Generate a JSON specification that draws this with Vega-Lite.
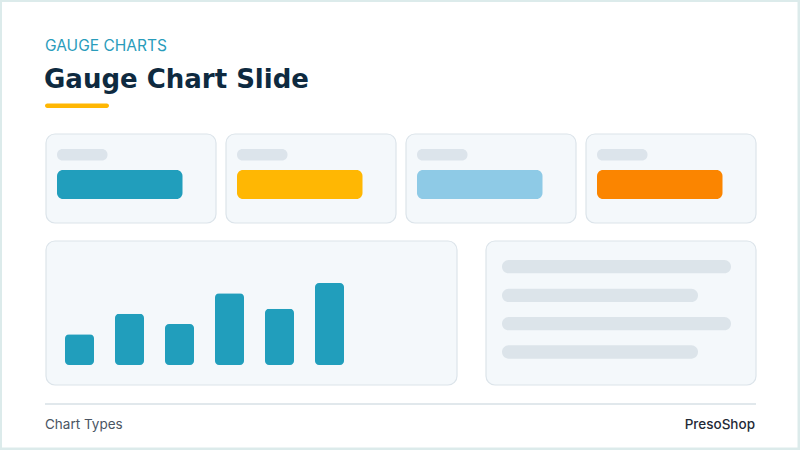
{
  "$schema": "https://vega.github.io/schema/vega-lite/v6.json",
  "width": 800,
  "height": 450,
  "autosize": {"type": "fit", "contains": "padding"},
  "padding": 0,
  "background": "#dcebeb",
  "config": {"view": {"stroke": null}, "font": "Inter"},
  "resolve": {"scale": {"x": "independent", "y": "independent", "color": "independent"}},
  "layer": [
    {
      "data": {"values": [{"part": "slide", "x0": 2, "x1": 797.5, "y0": 2, "y1": 447.5}]},
      "mark": {"type": "rect", "fill": "#ffffff"},
      "encoding": {
        "x": {"field": "x0", "type": "quantitative", "scale": {"domain": [0, 800], "range": [0, 800], "nice": false, "zero": false}, "axis": null},
        "x2": {"field": "x1"},
        "y": {"field": "y0", "type": "quantitative", "scale": {"domain": [0, 450], "range": [0, 450], "nice": false, "zero": false}, "axis": null},
        "y2": {"field": "y1"}
      }
    },
    {
      "data": {"values": [
        {"panel": "KPI 1", "x0": 46, "x1": 216, "y0": 134, "y1": 223},
        {"panel": "KPI 2", "x0": 226, "x1": 396, "y0": 134, "y1": 223},
        {"panel": "KPI 3", "x0": 406, "x1": 576, "y0": 134, "y1": 223},
        {"panel": "KPI 4", "x0": 586, "x1": 756, "y0": 134, "y1": 223},
        {"panel": "Chart", "x0": 46, "x1": 457, "y0": 241, "y1": 385},
        {"panel": "Notes", "x0": 486, "x1": 756, "y0": 241, "y1": 385}
      ]},
      "mark": {"type": "rect", "fill": "#f4f8fb", "stroke": "#dce4ea", "strokeWidth": 1.2, "cornerRadius": 9},
      "encoding": {
        "x": {"field": "x0", "type": "quantitative", "scale": {"domain": [0, 800], "range": [0, 800], "nice": false, "zero": false}, "axis": null},
        "x2": {"field": "x1"},
        "y": {"field": "y0", "type": "quantitative", "scale": {"domain": [0, 450], "range": [0, 450], "nice": false, "zero": false}, "axis": null},
        "y2": {"field": "y1"}
      }
    },
    {
      "data": {"values": [
        {"kpi": "KPI 1", "x0": 57, "x1": 107.5, "y0": 149, "y1": 160.5},
        {"kpi": "KPI 2", "x0": 237, "x1": 287.5, "y0": 149, "y1": 160.5},
        {"kpi": "KPI 3", "x0": 417, "x1": 467.5, "y0": 149, "y1": 160.5},
        {"kpi": "KPI 4", "x0": 597, "x1": 647.5, "y0": 149, "y1": 160.5}
      ]},
      "mark": {"type": "rect", "fill": "#dce4eb", "cornerRadius": 5.5},
      "encoding": {
        "x": {"field": "x0", "type": "quantitative", "scale": {"domain": [0, 800], "range": [0, 800], "nice": false, "zero": false}, "axis": null},
        "x2": {"field": "x1"},
        "y": {"field": "y0", "type": "quantitative", "scale": {"domain": [0, 450], "range": [0, 450], "nice": false, "zero": false}, "axis": null},
        "y2": {"field": "y1"}
      }
    },
    {
      "data": {"values": [
        {"kpi": "KPI 1", "x0": 57, "x1": 182.5, "y0": 170, "y1": 199},
        {"kpi": "KPI 2", "x0": 237, "x1": 362.5, "y0": 170, "y1": 199},
        {"kpi": "KPI 3", "x0": 417, "x1": 542.5, "y0": 170, "y1": 199},
        {"kpi": "KPI 4", "x0": 597, "x1": 722.5, "y0": 170, "y1": 199}
      ]},
      "mark": {"type": "rect", "cornerRadius": 6},
      "encoding": {
        "x": {"field": "x0", "type": "quantitative", "scale": {"domain": [0, 800], "range": [0, 800], "nice": false, "zero": false}, "axis": null},
        "x2": {"field": "x1"},
        "y": {"field": "y0", "type": "quantitative", "scale": {"domain": [0, 450], "range": [0, 450], "nice": false, "zero": false}, "axis": null},
        "y2": {"field": "y1"},
        "color": {"field": "kpi", "type": "nominal", "scale": {"domain": ["KPI 1", "KPI 2", "KPI 3", "KPI 4"], "range": ["#219ebc", "#ffb703", "#8ecae6", "#fb8500"]}, "legend": null}
      }
    },
    {
      "data": {"values": [
        {"line": 1, "x0": 502, "x1": 731, "y0": 260, "y1": 273.3},
        {"line": 2, "x0": 502, "x1": 698, "y0": 288.7, "y1": 302},
        {"line": 3, "x0": 502, "x1": 731, "y0": 317, "y1": 330.3},
        {"line": 4, "x0": 502, "x1": 698, "y0": 345.3, "y1": 358.7}
      ]},
      "mark": {"type": "rect", "fill": "#dce4ea", "cornerRadius": 6.6},
      "encoding": {
        "x": {"field": "x0", "type": "quantitative", "scale": {"domain": [0, 800], "range": [0, 800], "nice": false, "zero": false}, "axis": null},
        "x2": {"field": "x1"},
        "y": {"field": "y0", "type": "quantitative", "scale": {"domain": [0, 450], "range": [0, 450], "nice": false, "zero": false}, "axis": null},
        "y2": {"field": "y1"}
      }
    },
    {
      "data": {"values": [{"part": "accent", "x0": 45, "x1": 109, "y0": 103.5, "y1": 108}]},
      "mark": {"type": "rect", "fill": "#ffb703", "cornerRadius": 2.25},
      "encoding": {
        "x": {"field": "x0", "type": "quantitative", "scale": {"domain": [0, 800], "range": [0, 800], "nice": false, "zero": false}, "axis": null},
        "x2": {"field": "x1"},
        "y": {"field": "y0", "type": "quantitative", "scale": {"domain": [0, 450], "range": [0, 450], "nice": false, "zero": false}, "axis": null},
        "y2": {"field": "y1"}
      }
    },
    {
      "data": {"values": [{"part": "divider", "x0": 45, "x1": 756, "y": 404}]},
      "mark": {"type": "rule", "stroke": "#e1e8ec", "strokeWidth": 2},
      "encoding": {
        "x": {"field": "x0", "type": "quantitative", "scale": {"domain": [0, 800], "range": [0, 800], "nice": false, "zero": false}, "axis": null},
        "x2": {"field": "x1"},
        "y": {"field": "y", "type": "quantitative", "scale": {"domain": [0, 450], "range": [0, 450], "nice": false, "zero": false}, "axis": null}
      }
    },
    {
      "data": {"values": [{"text": "GAUGE CHARTS", "x": 45, "y": 51}]},
      "mark": {"type": "text", "align": "left", "baseline": "alphabetic", "fontSize": 15.5, "fontWeight": 400, "color": "#2a9cbb"},
      "encoding": {
        "x": {"field": "x", "type": "quantitative", "scale": {"domain": [0, 800], "range": [0, 800], "nice": false, "zero": false}, "axis": null},
        "y": {"field": "y", "type": "quantitative", "scale": {"domain": [0, 450], "range": [0, 450], "nice": false, "zero": false}, "axis": null},
        "text": {"field": "text"}
      }
    },
    {
      "data": {"values": [{"text": "Gauge Chart Slide", "x": 44, "y": 88}]},
      "mark": {"type": "text", "align": "left", "baseline": "alphabetic", "font": "DejaVu Sans", "fontSize": 26, "fontWeight": "bold", "color": "#0e2a40"},
      "encoding": {
        "x": {"field": "x", "type": "quantitative", "scale": {"domain": [0, 800], "range": [0, 800], "nice": false, "zero": false}, "axis": null},
        "y": {"field": "y", "type": "quantitative", "scale": {"domain": [0, 450], "range": [0, 450], "nice": false, "zero": false}, "axis": null},
        "text": {"field": "text"}
      }
    },
    {
      "data": {"values": [{"text": "Chart Types", "x": 45, "y": 429}]},
      "mark": {"type": "text", "align": "left", "baseline": "alphabetic", "fontSize": 13.5, "fontWeight": 400, "color": "#4b5563"},
      "encoding": {
        "x": {"field": "x", "type": "quantitative", "scale": {"domain": [0, 800], "range": [0, 800], "nice": false, "zero": false}, "axis": null},
        "y": {"field": "y", "type": "quantitative", "scale": {"domain": [0, 450], "range": [0, 450], "nice": false, "zero": false}, "axis": null},
        "text": {"field": "text"}
      }
    },
    {
      "data": {"values": [{"text": "PresoShop", "x": 755, "y": 429}]},
      "mark": {"type": "text", "align": "right", "baseline": "alphabetic", "fontSize": 13.5, "fontWeight": 500, "color": "#1f2a37"},
      "encoding": {
        "x": {"field": "x", "type": "quantitative", "scale": {"domain": [0, 800], "range": [0, 800], "nice": false, "zero": false}, "axis": null},
        "y": {"field": "y", "type": "quantitative", "scale": {"domain": [0, 450], "range": [0, 450], "nice": false, "zero": false}, "axis": null},
        "text": {"field": "text"}
      }
    },
    {
      "data": {"values": [
        {"category": "A", "value": 30},
        {"category": "B", "value": 50},
        {"category": "C", "value": 40},
        {"category": "D", "value": 70},
        {"category": "E", "value": 55},
        {"category": "F", "value": 80}
      ]},
      "mark": {"type": "bar", "color": "#219ebc", "cornerRadius": 4},
      "encoding": {
        "x": {"field": "category", "type": "nominal", "sort": null, "scale": {"range": [65, 344], "paddingInner": 0.42, "paddingOuter": 0}, "axis": null},
        "y": {"field": "value", "type": "quantitative", "scale": {"domain": [0, 100], "range": [365, 262.5], "nice": false, "zero": true}, "axis": null}
      }
    }
  ]
}
